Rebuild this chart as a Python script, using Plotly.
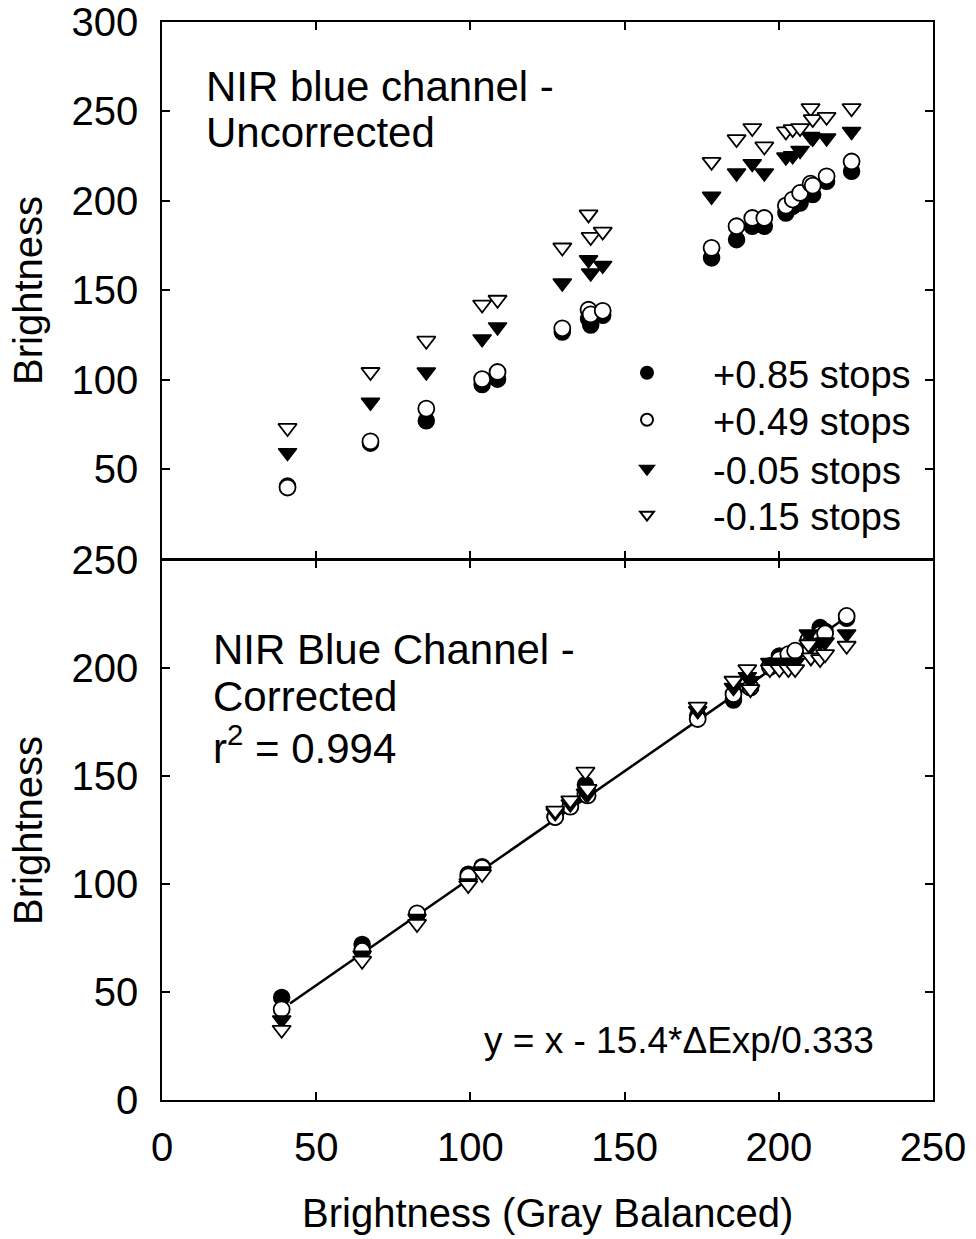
import plotly.graph_objects as go

# ---------------- data ----------------
series_names = ["+0.85 stops", "+0.49 stops", "-0.05 stops", "-0.15 stops"]

# Top panel (uncorrected)
top_x = [40.7, 67.6, 85.7, 103.8, 108.8, 129.8, 138.3, 139.0, 142.9, 178.2,
         186.3, 191.4, 195.3, 202.3, 204.5, 206.9, 210.3, 211.0, 215.5, 223.6]
top_p085 = [40.5, 64.5, 77.0, 97.3, 100.3, 126.6, 134.1, 130.5, 136.0, 168.1,
            178.3, 185.8, 185.8, 193.2, 196.9, 198.8, 204.4, 203.5, 210.9, 216.5]
top_p049 = [39.7, 65.5, 83.8, 100.3, 104.3, 128.7, 139.1, 136.5, 138.5, 173.7,
            185.8, 190.4, 190.4, 197.3, 200.7, 204.4, 209.6, 208.5, 213.7, 222.0]
top_m005 = [59.2, 87.4, 104.3, 122.8, 129.5, 154.0, 167.1, 159.6, 163.9, 202.5,
            215.6, 220.8, 215.6, 224.5, 225.2, 228.2, 236.0, 235.0, 235.1, 238.8]
top_m015 = [73.0, 104.3, 121.8, 142.0, 144.7, 173.9, 192.4, 179.8, 182.8, 221.8,
            234.5, 240.7, 230.4, 238.8, 240.1, 240.7, 251.8, 245.7, 247.0, 251.8]

# Bottom panel (corrected)
bot_x = [38.8, 64.9, 82.7, 99.3, 103.8, 127.5, 132.4, 137.3, 138.0, 173.7, 185.3,
         189.8, 190.8, 197.1, 200.2, 203.1, 205.3, 209.6, 210.4, 213.4, 215.0, 222.0]
bot_p085 = [47.5, 72.0, 86.0, 104.5, 108.0, 131.0, 136.0, 146.0, 143.0, 177.9, 185.2,
            193.0, 191.0, 201.0, 205.6, 206.0, 207.0, 213.0, 212.0, 218.7, 217.0, 223.0]
bot_p049 = [42.0, 69.0, 86.4, 103.5, 107.5, 131.0, 135.8, 141.6, 141.0, 176.4, 187.9,
            192.0, 191.0, 200.5, 204.0, 206.4, 208.0, 213.0, 212.0, 215.7, 216.0, 224.1]
bot_m005 = [37.0, 67.0, 84.0, 100.5, 106.0, 133.0, 137.0, 142.0, 141.5, 180.2, 191.0,
            196.0, 194.1, 202.5, 202.5, 202.5, 202.5, 215.7, 210.0, 211.8, 212.0, 215.7]
bot_m015 = [32.5, 64.5, 81.5, 99.5, 104.6, 134.0, 138.7, 152.0, 144.0, 182.1, 194.1,
            199.5, 190.2, 199.5, 199.5, 199.5, 199.5, 211.0, 204.9, 204.1, 206.4, 210.3]

fit_x = [41.5, 222.5]
fit_y = [44.7, 224.1]

x_ticks = [0, 50, 100, 150, 200, 250]
top_y_ticks = [50, 100, 150, 200, 250, 300]
bot_y_ticks = [0, 50, 100, 150, 200, 250]

# ---------------- styles ----------------
FONT = "Liberation Sans, Arial, Helvetica, sans-serif"
styles = [
    dict(symbol="circle", color="black", line=dict(color="black", width=1.5)),
    dict(symbol="circle", color="white", line=dict(color="black", width=1.8)),
    dict(symbol="triangle-down", color="black", line=dict(color="black", width=1.5)),
    dict(symbol="triangle-down", color="white", line=dict(color="black", width=1.8)),
]
top_data = [top_p085, top_p049, top_m005, top_m015]
bot_data = [bot_p085, bot_p049, bot_m005, bot_m015]
legend_ids = ["legend", "legend2", "legend3", "legend4"]
legend_rows_px = [373, 420, 469, 515]

fig = go.Figure()

# regression line (bottom)
fig.add_trace(go.Scatter(x=fit_x, y=fit_y, mode="lines",
                         line=dict(color="black", width=2.5),
                         xaxis="x", yaxis="y", showlegend=False, hoverinfo="skip"))

for name, ys, st, lg in zip(series_names, top_data, styles, legend_ids):
    fig.add_trace(go.Scatter(x=top_x, y=ys, mode="markers", name=name,
                             xaxis="x2", yaxis="y2", legend=lg,
                             marker=dict(size=16, **st), showlegend=True))
for name, ys, st in zip(series_names, bot_data, styles):
    fig.add_trace(go.Scatter(x=bot_x, y=ys, mode="markers", name=name,
                             xaxis="x", yaxis="y",
                             marker=dict(size=16, **st), showlegend=False))

LW = 1.5
axis_common = dict(showline=True, linecolor="black", linewidth=LW, mirror="ticks",
                   ticks="inside", ticklen=8, tickwidth=1.5, tickcolor="black",
                   showgrid=False, zeroline=False, automargin=False,
                   tickfont=dict(family=FONT, size=40, color="black"))

PLOT_H = 1078.0
split = 540.0 / PLOT_H
top_start = split + LW / PLOT_H  # so the two panel borders coincide


def px_x(p):
    return (p - 162) / 771.0


def px_y(p):
    return (1100 - p) / PLOT_H


legend_layouts = {}
for lg, row in zip(legend_ids, legend_rows_px):
    legend_layouts[lg] = dict(
        x=px_x(581), y=px_y(row), xanchor="left", yanchor="middle",
        font=dict(family=FONT, size=38, color="black"),
        bgcolor="rgba(0,0,0,0)", borderwidth=0, itemsizing="constant",
        itemwidth=122)

fig.update_layout(
    width=976, height=1239,
    margin=dict(l=162, r=43, t=22, b=139, autoexpand=False),
    paper_bgcolor="white", plot_bgcolor="white",
    font=dict(family=FONT, color="black"),
    xaxis=dict(domain=[0, 1], range=[0, 250], anchor="y", tickvals=x_ticks,
               ticklabelstandoff=11, **axis_common),
    xaxis2=dict(domain=[0, 1], range=[0, 250], anchor="y2", matches="x",
                tickvals=x_ticks, showticklabels=False, **axis_common),
    yaxis=dict(domain=[0, split], range=[0, 250], anchor="x", tickvals=bot_y_ticks,
               ticklabelstandoff=14, **axis_common),
    yaxis2=dict(domain=[top_start, 1], range=[0, 300], anchor="x2", tickvals=top_y_ticks,
                ticklabelstandoff=14, **axis_common),
    showlegend=True,
    **legend_layouts,
)

annots = [
    dict(text="NIR blue channel -", x=px_x(204), y=px_y(86), xanchor="left", yanchor="middle", size=42),
    dict(text="Uncorrected", x=px_x(204), y=px_y(133), xanchor="left", yanchor="middle", size=42),
    dict(text="NIR Blue Channel -", x=px_x(211), y=px_y(649), xanchor="left", yanchor="middle", size=42),
    dict(text="Corrected", x=px_x(211), y=px_y(696), xanchor="left", yanchor="middle", size=42),
    dict(text="r<sup>2</sup> = 0.994", x=px_x(211), y=px_y(745), xanchor="left", yanchor="middle", size=42),
    dict(text="y = x - 15.4*ΔExp/0.333", x=px_x(876), y=px_y(1040), xanchor="right", yanchor="middle", size=37),
    dict(text="Brightness (Gray Balanced)", x=px_x(547), y=px_y(1213), xanchor="center", yanchor="middle", size=40),
]
for a in annots:
    fig.add_annotation(text=a["text"], x=a["x"], y=a["y"], xref="paper", yref="paper",
                       xanchor=a["xanchor"], yanchor=a["yanchor"], showarrow=False,
                       font=dict(family=FONT, size=a["size"], color="black"))
for yc in [291, 831]:
    fig.add_annotation(text="Brightness", x=px_x(28), y=px_y(yc), xref="paper", yref="paper",
                       xanchor="center", yanchor="middle", textangle=-90, showarrow=False,
                       font=dict(family=FONT, size=40, color="black"))

fig.write_html("out.html")
